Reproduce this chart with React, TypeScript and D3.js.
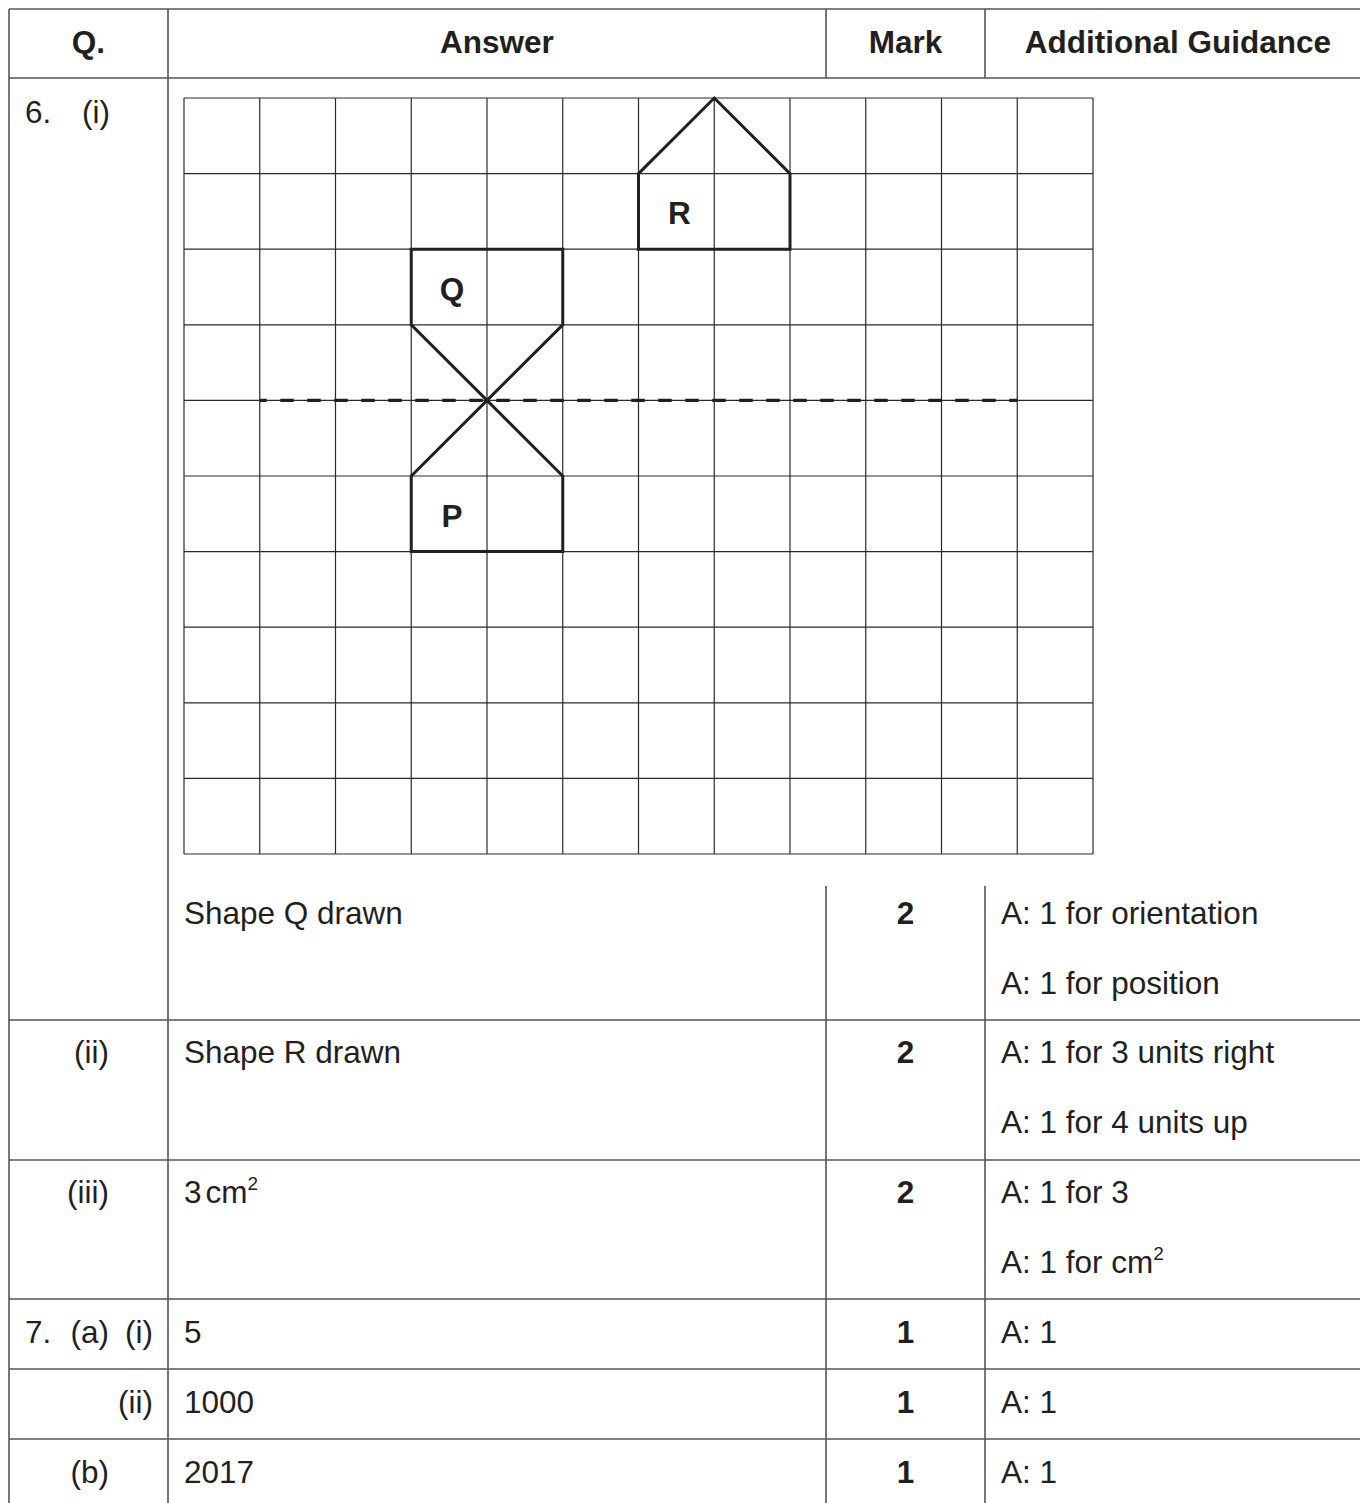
import React from "react";
import * as d3 from "d3";

// ---------- data ----------
const headers = ["Q.", "Answer", "Mark", "Additional Guidance"];

const gridCols = 12;
const gridRows = 10;

// shapes in grid units [col, row] from top-left corner of the grid
const shapeP: [number, number][] = [[3, 5], [4, 4], [5, 5], [5, 6], [3, 6]];
const shapeQ: [number, number][] = [[3, 2], [5, 2], [5, 3], [4, 4], [3, 3]];
const shapeR: [number, number][] = [[6, 1], [7, 0], [8, 1], [8, 2], [6, 2]];
const shapeNames = ["P", "Q", "R"];
const shapeLabelCells: [number, number][] = [[3, 5], [3, 2], [6, 1]];
const mirrorLine: [number, number][] = [[1, 4], [11, 4]];

// table body rows
const rowNumber = ["6.", "", "", "7.", "", ""];
const rowPart = ["(i)", "(ii)", "(iii)", "(a)", "", "(b)"];
const rowSubPart = ["", "", "", "(i)", "(ii)", ""];
const rowAnswer = ["Shape Q drawn", "Shape R drawn", "3cm2", "5", "1000", "2017"];
const rowMark = ["2", "2", "2", "1", "1", "1"];
const rowGuidance = [
  ["A: 1 for orientation", "A: 1 for position"],
  ["A: 1 for 3 units right", "A: 1 for 4 units up"],
  ["A: 1 for 3", "A: 1 for cm2"],
  ["A: 1"],
  ["A: 1"],
  ["A: 1"],
];

// ---------- layout ----------
const W = 1360;
const H = 1503;
const FONT = "'Liberation Sans', Arial, Helvetica, sans-serif";
const INK = "#231f20";
const BORDER = "#555";
const colX = [9, 168, 826, 985, 1360];
const rowY = [9, 78, 1020, 1160, 1299, 1369, 1439, 1503];
const FS = 31.5;

const x = d3.scaleLinear().domain([0, gridCols]).range([184, 1093]);
const y = d3.scaleLinear().domain([0, gridRows]).range([98, 854]);
const line = d3
  .line<[number, number]>()
  .x((d) => x(d[0]))
  .y((d) => y(d[1]));

function Sup({ base, xPos, yPos, anchor }: { base: string; xPos: number; yPos: number; anchor?: string }) {
  if (base.endsWith("cm2")) {
    const pre = base.slice(0, -3);
    const isNum = /^\d+$/.test(pre);
    return (
      <text x={xPos} y={yPos} fontFamily={FONT} fontSize={FS} fill={INK} textAnchor={anchor}>
        {pre}
        <tspan dx={isNum ? 4 : 0}>cm</tspan>
        <tspan fontSize={19} dy={-13}>2</tspan>
      </text>
    );
  }
  return (
    <text x={xPos} y={yPos} fontFamily={FONT} fontSize={FS} fill={INK} textAnchor={anchor}>
      {base}
    </text>
  );
}

export default function App() {
  const shapes = [shapeP, shapeQ, shapeR];
  const bodyBase = [924, 1063, 1203, 1343, 1413, 1483];
  return (
    <svg
      width={W}
      height={H}
      style={{ position: "absolute", left: 0, top: 0, background: "#fff" }}
    >
      <rect x={0} y={0} width={W} height={H} fill="#fff" />

      {/* grid */}
      <g>
        {d3.range(gridCols + 1).map((i) => (
          <line key={"gv" + i} x1={x(i)} x2={x(i)} y1={y(0)} y2={y(gridRows)} stroke="#2a2a2a" strokeWidth={1.2} />
        ))}
        {d3.range(gridRows + 1).map((j) => (
          <line key={"gh" + j} x1={x(0)} x2={x(gridCols)} y1={y(j)} y2={y(j)} stroke="#2a2a2a" strokeWidth={1.2} />
        ))}
      </g>

      {/* mirror line */}
      <path
        d={line(mirrorLine) || ""}
        stroke={INK}
        strokeWidth={3.2}
        strokeDasharray="13.5 13.5"
        strokeDashoffset={6.5}
        fill="none"
      />

      {/* shapes */}
      {shapes.map((s, i) => (
        <path key={"s" + i} d={(line(s) || "") + "Z"} fill="none" stroke={INK} strokeWidth={3} strokeLinejoin="miter" />
      ))}
      {shapeNames.map((n, i) => (
        <text
          key={"sn" + n}
          x={x(shapeLabelCells[i][0] + 0.5) + 3}
          y={y(shapeLabelCells[i][1] + 0.5) + 13}
          fontFamily={FONT}
          fontWeight="bold"
          fontSize={FS}
          fill={INK}
          textAnchor="middle"
        >
          {n}
        </text>
      ))}

      {/* table borders */}
      <g stroke={BORDER} strokeWidth={1.6}>
        {[0, 1, 2, 3, 4, 5, 6].map((r) => (
          <line key={"h" + r} x1={colX[0]} x2={W} y1={rowY[r]} y2={rowY[r]} />
        ))}
        <line x1={colX[0]} x2={colX[0]} y1={rowY[0]} y2={H} />
        <line x1={colX[1]} x2={colX[1]} y1={rowY[0]} y2={H} />
        {[2, 3].map((c) => (
          <g key={"vc" + c}>
            <line x1={colX[c]} x2={colX[c]} y1={rowY[0]} y2={rowY[1]} />
            <line x1={colX[c]} x2={colX[c]} y1={886} y2={H} />
          </g>
        ))}
      </g>

      {/* headers */}
      {headers.map((h, i) => (
        <text
          key={"hd" + i}
          x={i === 3 ? 1178 : (colX[i] + colX[i + 1]) / 2}
          y={53}
          fontFamily={FONT}
          fontWeight="bold"
          fontSize={FS}
          fill={INK}
          textAnchor="middle"
        >
          {h}
        </text>
      ))}

      {/* question labels */}
      <text x={25} y={123} fontFamily={FONT} fontSize={FS} fill={INK}>
        {rowNumber[0]}
      </text>
      <text x={110} y={123} fontFamily={FONT} fontSize={FS} fill={INK} textAnchor="end">
        {rowPart[0]}
      </text>
      {rowAnswer.map((_, i) => {
        if (i === 0) return null;
        const b = bodyBase[i];
        return (
          <g key={"q" + i}>
            {rowNumber[i] && (
              <text x={25} y={b} fontFamily={FONT} fontSize={FS} fill={INK}>
                {rowNumber[i]}
              </text>
            )}
            {rowPart[i] && (
              <text x={109} y={b} fontFamily={FONT} fontSize={FS} fill={INK} textAnchor="end">
                {rowPart[i]}
              </text>
            )}
            {rowSubPart[i] && (
              <text x={153} y={b} fontFamily={FONT} fontSize={FS} fill={INK} textAnchor="end">
                {rowSubPart[i]}
              </text>
            )}
          </g>
        );
      })}

      {/* answers, marks, guidance */}
      {rowAnswer.map((a, i) => (
        <g key={"r" + i}>
          <Sup base={a} xPos={184} yPos={bodyBase[i]} />
          <text
            x={(colX[2] + colX[3]) / 2}
            y={bodyBase[i]}
            fontFamily={FONT}
            fontWeight="bold"
            fontSize={FS}
            fill={INK}
            textAnchor="middle"
          >
            {rowMark[i]}
          </text>
          {rowGuidance[i].map((g, k) => (
            <Sup key={"g" + k} base={g} xPos={1001} yPos={bodyBase[i] + k * 70} />
          ))}
        </g>
      ))}
    </svg>
  );
}
